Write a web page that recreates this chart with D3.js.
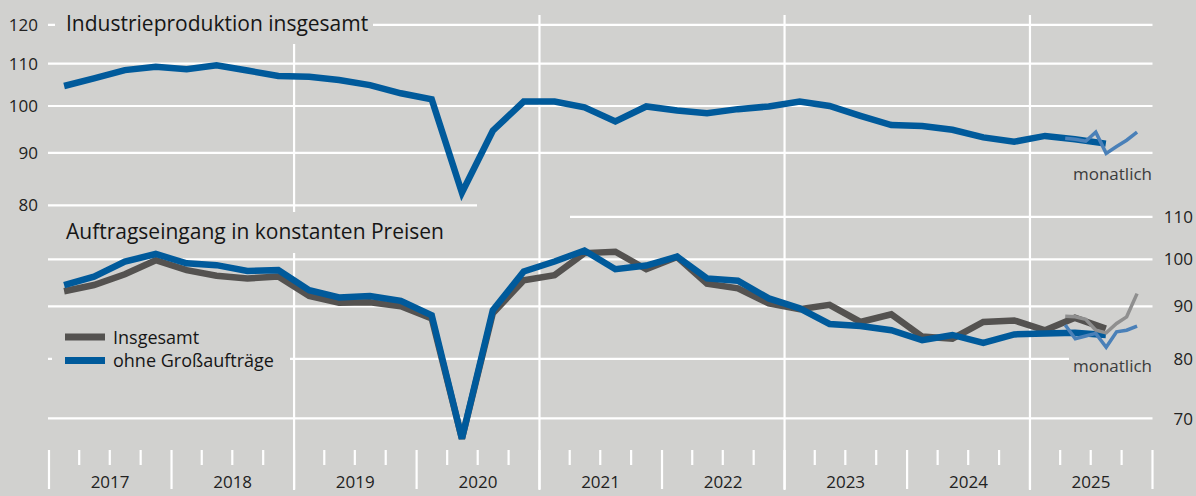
<!DOCTYPE html>
<html lang="de">
<head>
<meta charset="UTF-8">
<title>Industrieproduktion und Auftragseingang</title>
<script src="https://d3js.org/d3.v7.min.js"></script>
<style>
  body { margin: 0; background: #d1d1cf; }
  svg { display: block; font-family: "Open Sans", sans-serif; }
  .grid { stroke: #fff; stroke-width: 2.2; }
  .tick-label { font-size: 17px; fill: #222; }
  .title { font-size: 21px; fill: #161616; }
  .legend-label { font-size: 18px; fill: #161616; }
  .note { font-size: 17px; fill: #3c3c3c; }
</style>
</head>
<body>
<div id="chart"></div>
<script>
  // quarterly data, 2017Q1 .. 2025Q3
  const quarters = [
    "2017Q1", "2017Q2", "2017Q3", "2017Q4", "2018Q1", "2018Q2", "2018Q3", "2018Q4",
    "2019Q1", "2019Q2", "2019Q3", "2019Q4", "2020Q1", "2020Q2", "2020Q3", "2020Q4",
    "2021Q1", "2021Q2", "2021Q3", "2021Q4", "2022Q1", "2022Q2", "2022Q3", "2022Q4",
    "2023Q1", "2023Q2", "2023Q3", "2023Q4", "2024Q1", "2024Q2", "2024Q3", "2024Q4",
    "2025Q1", "2025Q2", "2025Q3"
  ];
  const produktion = [
    104.6, 106.4, 108.4, 109.2, 108.6, 109.6, 108.3, 107.0,
    106.8, 106.0, 104.8, 102.9, 101.5, 82.3, 94.6, 101.0,
    101.0, 99.7, 96.6, 99.9, 99.0, 98.4, 99.3, 99.9,
    101.0, 100.0, 97.8, 95.8, 95.6, 94.8, 93.2, 92.3,
    93.5, 92.8, 91.9
  ];
  const auftragInsgesamt = [
    93.1, 94.4, 96.7, 99.8, 97.6, 96.4, 95.8, 96.2,
    92.1, 90.7, 90.8, 90.0, 87.6, 66.9, 88.6, 95.4,
    96.5, 101.4, 101.7, 97.8, 100.5, 94.7, 93.7, 90.6,
    89.4, 90.3, 86.9, 88.4, 84.1, 83.7, 86.9, 87.2,
    85.3, 87.7, 85.6
  ];
  const auftragOhneGross = [
    94.4, 96.2, 99.5, 101.2, 99.1, 98.7, 97.4, 97.6,
    93.3, 91.8, 92.1, 91.1, 88.2, 66.9, 89.2, 97.3,
    99.5, 102.0, 97.8, 98.6, 100.6, 95.8, 95.3, 91.6,
    89.6, 86.5, 86.1, 85.3, 83.4, 84.4, 82.9, 84.5,
    84.7, 84.8, 84.4
  ];

  // monthly data, April .. November 2025
  const months = ["2025-04", "2025-05", "2025-06", "2025-07", "2025-08", "2025-09", "2025-10", "2025-11"];
  const produktionMonat = [93.0, 92.8, 92.4, 94.3, 89.9, 91.3, 92.6, 94.3];
  const insgesamtMonat = [88.0, 87.9, 87.4, 85.3, 84.8, 86.6, 87.9, 92.6];
  const ohneGrossMonat = [86.3, 83.7, 84.2, 84.7, 82.1, 85.0, 85.3, 86.1];

  const years = [2017, 2018, 2019, 2020, 2021, 2022, 2023, 2024, 2025];
  const topTicks = [120, 110, 100, 90, 80];
  const bottomTicks = [110, 100, 90, 80, 70];

  const width = 1196, height = 496;
  const bg = "#d1d1cf";
  const blue = "#005a9b", grey = "#545250";
  const lightBlue = "#4a80b8", lightGrey = "#8f8f8f";

  const parseQ = s => new Date(+s.slice(0, 4), (+s.slice(5) - 1) * 3 + 1, 15);
  const parseM = s => new Date(+s.slice(0, 4), +s.slice(5) - 1, 16);

  const svg = d3.select("#chart").append("svg")
    .attr("width", width)
    .attr("height", height);

  svg.append("rect").attr("width", width).attr("height", height).attr("fill", bg);

  const x = d3.scaleTime()
    .domain([new Date(2017, 0, 1), new Date(2026, 0, 1)])
    .range([49, 1152.5]);
  const yTop = d3.scaleLog().domain([80, 120]).range([205.3, 24.9]);
  const yBot = d3.scaleLog().domain([70, 110]).range([418.4, 216.8]);

  const grid = svg.append("g");

  // horizontal grid lines (some are shortened where the panels meet)
  topTicks.forEach(v => {
    grid.append("line").attr("class", "grid")
      .attr("x1", 48).attr("x2", v === 80 ? 477 : x.range()[1])
      .attr("y1", yTop(v)).attr("y2", yTop(v));
  });
  bottomTicks.forEach(v => {
    grid.append("line").attr("class", "grid")
      .attr("x1", v === 110 ? 570 : 48).attr("x2", x.range()[1])
      .attr("y1", yBot(v)).attr("y2", yBot(v));
  });

  // vertical lines every two years
  [2019, 2021, 2023, 2025].forEach(yr => {
    const xx = x(new Date(yr, 0, 1));
    grid.append("line").attr("class", "grid")
      .attr("x1", xx).attr("x2", xx).attr("y1", 15).attr("y2", 490);
  });

  // quarter and year ticks
  const qStarts = d3.timeMonth.every(3).range(new Date(2017, 0, 1), new Date(2026, 0, 2));
  qStarts.forEach(d => {
    const isYear = d.getMonth() === 0;
    grid.append("line").attr("class", "grid")
      .attr("x1", x(d)).attr("x2", x(d))
      .attr("y1", 450).attr("y2", isYear ? 489 : 465);
  });

  // background boxes behind titles, legend and notes
  const masks = [
    [55, 0, 318, 44],
    [58, 212, 397, 41],
    [52, 325, 238, 48],
    [1069, 355, 95, 25]
  ];
  svg.append("g").selectAll("rect")
    .data(masks)
    .enter()
    .append("rect")
    .attr("x", d => d[0]).attr("y", d => d[1])
    .attr("width", d => d[2]).attr("height", d => d[3])
    .attr("fill", bg);

  // lines
  const lineTop = d3.line().x(d => x(d.date)).y(d => yTop(d.value));
  const lineBot = d3.line().x(d => x(d.date)).y(d => yBot(d.value));

  const toSeries = (cats, vals, parse) => cats.map((c, i) => ({ date: parse(c), value: vals[i] }));

  const drawLine = (data, gen, color, w) => {
    svg.append("path")
      .datum(data)
      .attr("d", gen)
      .attr("fill", "none")
      .attr("stroke", color)
      .attr("stroke-width", w);
  };

  drawLine(toSeries(quarters, produktion, parseQ), lineTop, blue, 6.5);
  drawLine(toSeries(months, produktionMonat, parseM), lineTop, lightBlue, 3.5);

  drawLine(toSeries(quarters, auftragInsgesamt, parseQ), lineBot, grey, 6.5);
  drawLine(toSeries(quarters, auftragOhneGross, parseQ), lineBot, blue, 6.5);
  drawLine(toSeries(months, insgesamtMonat, parseM), lineBot, lightGrey, 3.5);
  drawLine(toSeries(months, ohneGrossMonat, parseM), lineBot, lightBlue, 3.5);

  // axis labels
  svg.append("g").selectAll("text")
    .data(topTicks)
    .enter()
    .append("text")
    .attr("class", "tick-label")
    .attr("x", 38)
    .attr("y", d => yTop(d))
    .attr("dy", "0.36em")
    .attr("text-anchor", "end")
    .text(d => d);

  svg.append("g").selectAll("text")
    .data(bottomTicks)
    .enter()
    .append("text")
    .attr("class", "tick-label")
    .attr("x", 1193)
    .attr("y", d => yBot(d))
    .attr("dy", "0.36em")
    .attr("text-anchor", "end")
    .text(d => d);

  svg.append("g").selectAll("text")
    .data(years)
    .enter()
    .append("text")
    .attr("class", "tick-label")
    .attr("x", d => x(new Date(d, 6, 2)))
    .attr("y", 488)
    .attr("text-anchor", "middle")
    .text(d => d);

  // titles
  svg.append("text").attr("class", "title")
    .attr("x", 66).attr("y", 31)
    .text("Industrieproduktion insgesamt");
  svg.append("text").attr("class", "title")
    .attr("x", 66).attr("y", 239)
    .text("Auftragseingang in konstanten Preisen");

  // legend
  const legendItems = [
    { label: "Insgesamt", color: grey },
    { label: "ohne Großaufträge", color: blue }
  ];
  const legend = svg.append("g").attr("transform", "translate(65,337)");
  legend.selectAll("line")
    .data(legendItems)
    .enter()
    .append("line")
    .attr("x1", 0).attr("x2", 40)
    .attr("y1", (d, i) => i * 23.5).attr("y2", (d, i) => i * 23.5)
    .attr("stroke", d => d.color)
    .attr("stroke-width", 7);
  legend.selectAll("text")
    .data(legendItems)
    .enter()
    .append("text")
    .attr("class", "legend-label")
    .attr("x", 48)
    .attr("y", (d, i) => i * 23.5 + 6.5)
    .text(d => d.label);

  // notes for the monthly lines
  svg.append("text").attr("class", "note")
    .attr("x", 1152).attr("y", 180).attr("text-anchor", "end")
    .text("monatlich");
  svg.append("text").attr("class", "note")
    .attr("x", 1152).attr("y", 371.5).attr("text-anchor", "end")
    .text("monatlich");
</script>
</body>
</html>
